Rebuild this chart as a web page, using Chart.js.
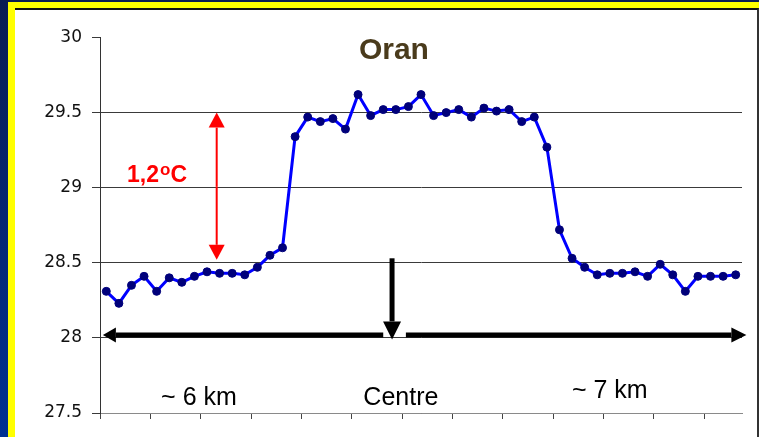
<!DOCTYPE html>
<html>
<head>
<meta charset="utf-8">
<script src="https://cdn.jsdelivr.net/npm/chart.js@4"></script>
<style>
    body { margin: 0; width: 759px; height: 437px; overflow: hidden; position: relative;
           background: linear-gradient(#0a1c52, #003092); }
    #yellow { position: absolute; left: 8px; top: 2px; width: 751px; height: 435px; background: #ffff00; }
    #panel { position: absolute; left: 15px; top: 8px; width: 744px; height: 429px; background: #fff;
             border-top: 2px solid #111; border-right: 2px solid #333; box-sizing: border-box; }
    #chart { position: absolute; left: 0; top: 0; }
</style>
</head>
<body>
<div id="yellow"></div>
<div id="panel"></div>
<canvas id="chart" width="759" height="437"></canvas>
<script>
// transect points across the lake (index along the ~13 km profile)
const distance = [1, 2, 3, 4, 5, 6, 7, 8, 9, 10, 11, 12, 13, 14, 15, 16, 17, 18, 19, 20,
    21, 22, 23, 24, 25, 26, 27, 28, 29, 30, 31, 32, 33, 34, 35, 36, 37, 38, 39, 40,
    41, 42, 43, 44, 45, 46, 47, 48, 49, 50, 51];

// surface temperature, degC
const temperature = [28.31, 28.23, 28.35, 28.41, 28.31, 28.40, 28.37, 28.41, 28.44, 28.43,
    28.43, 28.42, 28.47, 28.55, 28.60,
    29.34, 29.47, 29.44, 29.46, 29.39, 29.62, 29.48, 29.52, 29.52, 29.54, 29.62, 29.48,
    29.50, 29.52, 29.47, 29.53, 29.51, 29.52, 29.44, 29.47, 29.27,
    28.72, 28.53, 28.47, 28.42, 28.43, 28.43, 28.44, 28.41, 28.49, 28.42, 28.31, 28.41,
    28.41, 28.41, 28.42];

const yTicks = [27.5, 28, 28.5, 29, 29.5, 30];

const titleText = 'Oran';
const deltaText = '1,2';
const sideLabels = ['~ 6 km', 'Centre', '~ 7 km'];

const FONT = "'Liberation Sans', Arial, sans-serif";

function drawArrow(ctx, x1, y1, x2, y2, lw, headLen, headW, color) {
    const ang = Math.atan2(y2 - y1, x2 - x1);
    const bx = x2 - Math.cos(ang) * headLen;
    const by = y2 - Math.sin(ang) * headLen;
    ctx.save();
    ctx.strokeStyle = color;
    ctx.fillStyle = color;
    ctx.lineWidth = lw;
    ctx.beginPath();
    ctx.moveTo(x1, y1);
    ctx.lineTo(bx, by);
    ctx.stroke();
    ctx.beginPath();
    ctx.moveTo(x2, y2);
    ctx.lineTo(bx + Math.sin(ang) * headW / 2, by - Math.cos(ang) * headW / 2);
    ctx.lineTo(bx - Math.sin(ang) * headW / 2, by + Math.cos(ang) * headW / 2);
    ctx.closePath();
    ctx.fill();
    ctx.restore();
}

const annotations = {
    id: 'annotations',
    afterDatasetsDraw(chart) {
        const ctx = chart.ctx;
        const x = chart.scales.x;
        const y = chart.scales.y;
        const px = v => x.getPixelForValue(v);
        const py = v => y.getPixelForValue(v);

        ctx.save();
        // title
        ctx.font = 'bold 30px ' + FONT;
        ctx.fillStyle = '#4a3b1c';
        ctx.textAlign = 'center';
        ctx.textBaseline = 'alphabetic';
        ctx.fillText(titleText, px(22.85), py(29.857));

        // red double arrow (1,2 degC)
        const rx = px(8.77);
        const rMid = (py(29.5) + py(28.52)) / 2;
        drawArrow(ctx, rx, rMid, rx, py(29.5), 2, 15, 16, '#ff0000');
        drawArrow(ctx, rx, rMid, rx, py(28.52), 2, 15, 16, '#ff0000');

        // 1,2 oC label
        ctx.fillStyle = '#ff0000';
        ctx.font = 'bold 23px ' + FONT;
        ctx.textAlign = 'left';
        const lx = px(1.65);
        const ly = py(29.04);
        ctx.fillText(deltaText, lx, ly);
        let w = ctx.measureText(deltaText).width;
        ctx.font = 'bold 17px ' + FONT;
        ctx.fillText('o', lx + w + 1, ly - 7);
        w += ctx.measureText('o').width + 1;
        ctx.font = 'bold 23px ' + FONT;
        ctx.fillText('C', lx + w, ly);

        // black arrows
        const hy = py(28.02);
        drawArrow(ctx, px(22.0), hy, px(-0.27), hy, 5, 13, 15, '#000');
        drawArrow(ctx, px(23.8), hy, px(50.85), hy, 5, 15, 15, '#000');
        drawArrow(ctx, px(22.7), py(28.53), px(22.7), py(27.99), 5, 18, 18, '#000');

        // distance labels
        ctx.fillStyle = '#000';
        ctx.font = '25px ' + FONT;
        ctx.textAlign = 'center';
        ctx.fillText(sideLabels[0], px(7.36), py(27.55));
        ctx.fillText(sideLabels[1], px(23.4), py(27.55));
        ctx.fillText(sideLabels[2], px(40.0), py(27.597));
        ctx.restore();
    }
};

new Chart(document.getElementById('chart'), {
    type: 'line',
    data: {
        labels: distance,
        datasets: [{
            data: temperature,
            borderColor: '#0000ff',
            borderWidth: 3,
            tension: 0,
            pointRadius: 4,
            pointHoverRadius: 4,
            pointBackgroundColor: '#00007a',
            pointBorderColor: '#00007a',
            pointBorderWidth: 1
        }]
    },
    plugins: [annotations],
    options: {
        responsive: false,
        animation: false,
        devicePixelRatio: 1,
        layout: { padding: { left: 15, top: 37.5, right: 17, bottom: 0 } },
        plugins: {
            legend: { display: false },
            tooltip: { enabled: false },
            title: { display: false }
        },
        scales: {
            x: {
                type: 'category',
                offset: true,
                afterFit: (scale) => { scale.height = 24; },
                grid: {
                    offset: true,
                    drawOnChartArea: false,
                    drawTicks: true,
                    tickLength: 6,
                    color: (ctx) => (ctx.index % 4 === 0 ? '#444' : 'rgba(0,0,0,0)')
                },
                border: { display: true, color: '#8a8a8a', width: 1 },
                ticks: { display: false }
            },
            y: {
                min: 27.5,
                max: 30,
                afterFit: (scale) => { scale.width = 85; },
                afterBuildTicks: (scale) => { scale.ticks = yTicks.map(v => ({ value: v })); },
                grid: {
                    color: (ctx) => (ctx.tick && ctx.tick.value === 30 ? 'rgba(0,0,0,0)' : '#3a3a3a'),
                    tickColor: '#3a3a3a',
                    tickLength: 8,
                    lineWidth: 1
                },
                border: { display: true, color: '#333', width: 1 },
                ticks: {
                    padding: 10,
                    color: '#111',
                    font: { family: "'DejaVu Sans', " + FONT, size: 17 },
                    callback: (v) => String(v)
                }
            }
        }
    }
});
</script>
</body>
</html>
